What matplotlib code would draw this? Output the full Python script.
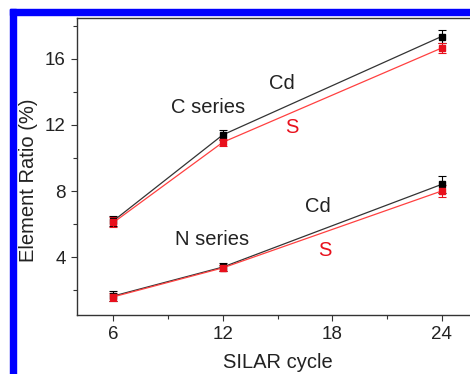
import matplotlib
matplotlib.use("Agg")
import matplotlib.pyplot as plt
from matplotlib.patches import Rectangle
from matplotlib.ticker import MultipleLocator

plt.rcParams['font.family'] = ['Liberation Sans', 'DejaVu Sans']

cycles = [6, 12, 24]
c_cd = [6.2, 11.4, 17.35]
c_cd_err = [0.3, 0.3, 0.4]
c_s = [6.1, 10.95, 16.65]
c_s_err = [0.3, 0.2, 0.3]
n_cd = [1.65, 3.4, 8.4]
n_cd_err = [0.3, 0.25, 0.5]
n_s = [1.6, 3.35, 8.0]
n_s_err = [0.25, 0.2, 0.35]

fig = plt.figure(figsize=(4.70, 3.74), dpi=100)
# blue frame (top and left)
fig.patches.append(Rectangle((10/470, 0), 6/470, 1 - 9/374, transform=fig.transFigure,
                             color='#0000ff', zorder=0))
fig.patches.append(Rectangle((10/470, 1 - 15/374), 1, 6/374, transform=fig.transFigure,
                             color='#0000ff', zorder=0))

ax = fig.add_axes([77/470, 1 - 315/374, (478 - 77)/470, (315 - 17.5)/374])
ax.spines['right'].set_visible(False)
for s in ['left', 'bottom', 'top']:
    ax.spines[s].set_linewidth(1.0)
    ax.spines[s].set_color('#333333')

for y, e, col, lc in [(c_cd, c_cd_err, 'black', '#333333'), (c_s, c_s_err, '#e8101c', '#ff4040'),
                      (n_cd, n_cd_err, 'black', '#333333'), (n_s, n_s_err, '#e8101c', '#ff4040')]:
    ax.errorbar(cycles, y, yerr=e, color=lc, ecolor=col, elinewidth=0.8, capsize=3,
                capthick=0.8, lw=0.9, marker='s', ms=4.5, mfc=col, mec=col)

ax.set_xlim(4, 26)
ax.set_ylim(0.5, 18.5)
ax.xaxis.set_major_locator(MultipleLocator(6))
ax.xaxis.set_minor_locator(MultipleLocator(3))
ax.yaxis.set_major_locator(MultipleLocator(4))
ax.yaxis.set_minor_locator(MultipleLocator(2))
ax.set_xticks([6, 12, 18, 24])
ax.set_yticks([4, 8, 12, 16])
ax.tick_params(which='major', direction='out', length=4, width=0.8, labelsize=13.5,
               colors='#333333', labelcolor='#222222', pad=4)
ax.tick_params(which='minor', direction='out', length=3, width=0.8, colors='#333333')

ax.set_xlabel('SILAR cycle', fontsize=14.5, color='#222222', labelpad=7)
ax.set_ylabel('Element Ratio (%)', fontsize=14.5, color='#222222', labelpad=5)
ax.yaxis.label.set_y(0.452)

fs = 14.5
ax.text(15.25, 14.5, 'Cd', fontsize=fs, color='#222222', ha='center', va='center')
ax.text(11.2, 13.07, 'C series', fontsize=fs, color='#222222', ha='center', va='center')
ax.text(15.8, 11.86, 'S', fontsize=fs, color='#e8101c', ha='center', va='center')
ax.text(17.2, 7.04, 'Cd', fontsize=fs, color='#222222', ha='center', va='center')
ax.text(11.4, 5.04, 'N series', fontsize=fs, color='#222222', ha='center', va='center')
ax.text(17.6, 4.38, 'S', fontsize=fs, color='#e8101c', ha='center', va='center')

fig.savefig('out.png', dpi=100)
